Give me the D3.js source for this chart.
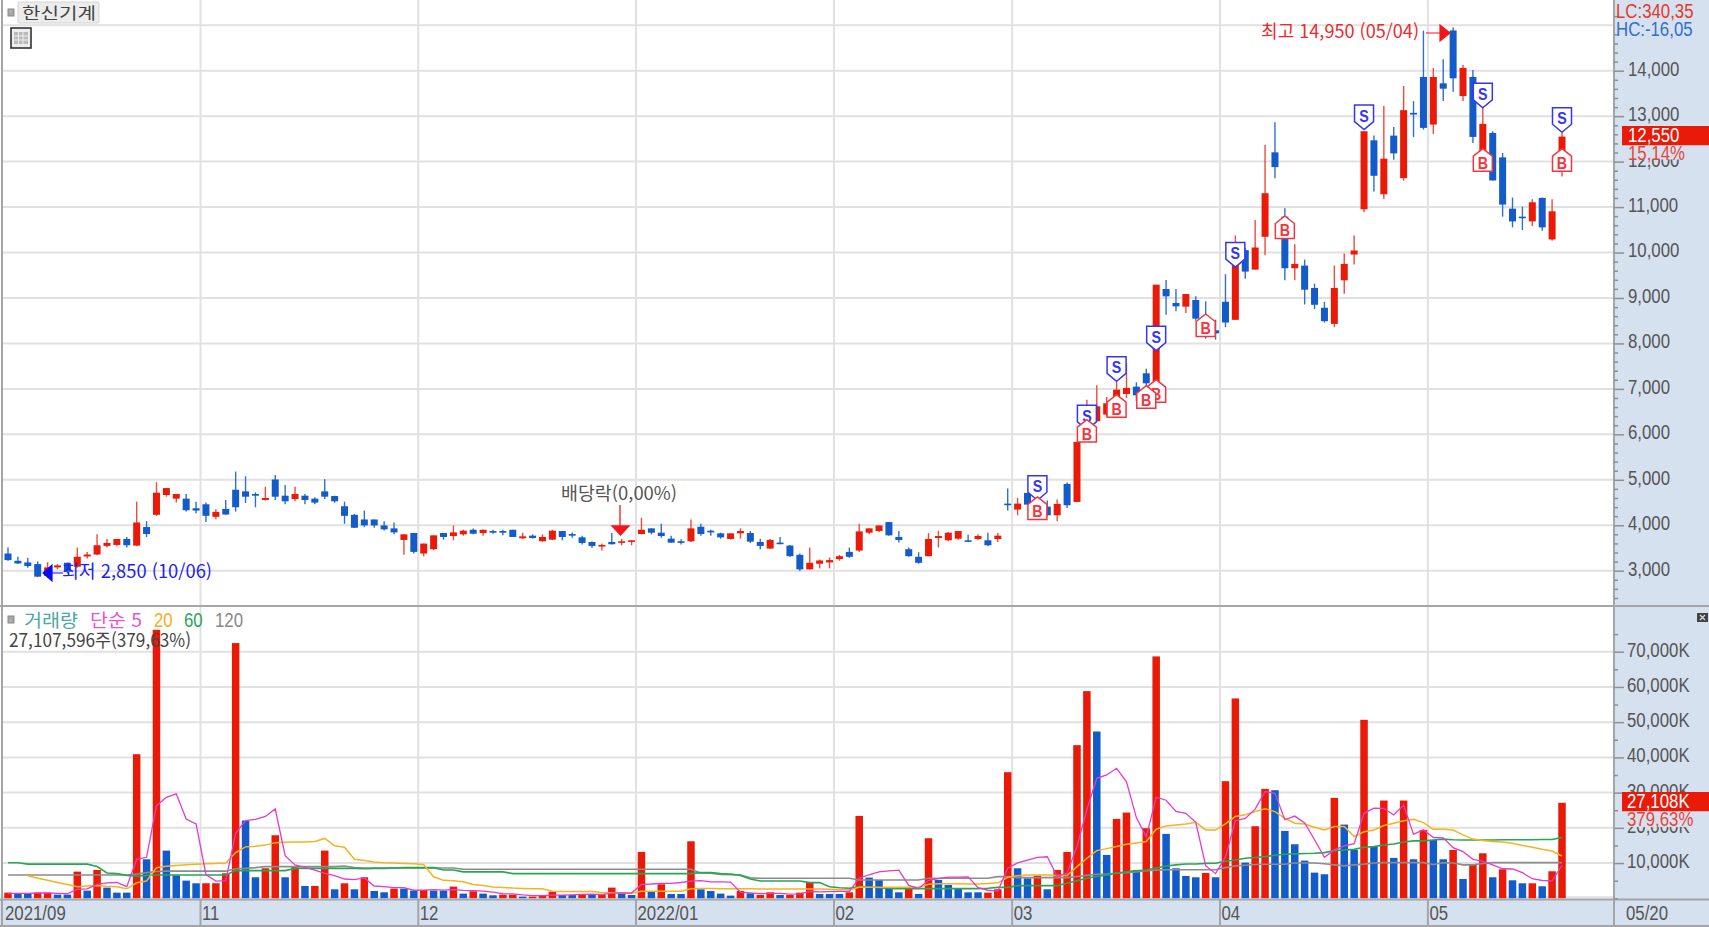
<!DOCTYPE html>
<html lang="ko"><head><meta charset="utf-8">
<style>
html,body{margin:0;padding:0;background:#fff;overflow:hidden}
svg{display:block}
text{font-family:"Liberation Sans","Noto Sans CJK KR",sans-serif}
.ko{font-family:"Noto Sans CJK KR","Liberation Sans",sans-serif}
</style>
<script src="https://cdn.jsdelivr.net/npm/d3@7/dist/d3.min.js"></script>
</head><body><svg id="c" width="1709" height="927"></svg>
<script>
const open=[3378,3218,3182,3145,2884,3073,3174,3087,3313,3356,
3545,3567,3698,3552,3960,4229,4665,4585,4585,4374,
4461,4185,4360,4781,4745,4687,4556,5007,4650,4578,
4650,4585,4745,4643,4418,4229,4127,4127,3996,3931,
3676,3829,3378,3473,3829,3763,3800,3901,3829,3872,
3872,3901,3713,3771,3647,3683,3872,3807,3734,3632,
3531,3632,3618,3647,3807,3931,3836,3705,3647,3647,
3967,3880,3822,3698,3822,3829,3632,3487,3618,3553,
3349,3029,3153,3182,3254,3414,3443,3836,3872,4069,
3742,3473,3305,3320,3720,3669,3705,3669,3698,3669,
3698,4476,4345,4711,4308,4410,4220,4909,4513,6214,
6287,6434,6800,6888,7049,7343,6947,9197,8889,8809,
8955,8486,8288,8917,8519,10052,9624,10346,12204,10789,
9654,9712,9219,8784,8430,9388,9956,10951,12469,11282,
12572,11636,13073,13862,12815,13722,14886,13442,13862,12000,
12631,12093,10965,10789,10685,11201,10287,11900];
const close=[3233,3160,3102,2869,3073,3116,2978,3305,3356,3560,
3611,3698,3560,4061,3807,4716,4818,4687,4330,4323,
4207,4294,4236,4396,4628,4650,4599,4628,4527,4687,
4556,4498,4628,4527,4207,3945,3996,3996,3909,3843,
3800,3414,3596,3778,3742,3843,3880,3814,3901,3843,
3836,3742,3756,3720,3742,3880,3742,3771,3611,3545,
3567,3582,3647,3669,3901,3836,3763,3618,3618,3931,
3807,3843,3734,3822,3872,3640,3545,3676,3589,3320,
3029,3174,3225,3233,3320,3305,3865,3931,3996,3778,
3676,3320,3174,3698,3763,3836,3872,3647,3763,3560,
3771,4454,4476,4454,4454,4220,4469,4440,5833,6434,
6617,6683,6983,7020,6859,7123,9292,9036,8816,9087,
8545,8230,8222,8460,9720,9580,10110,11304,11879,9654,
9749,9182,8850,8489,9219,9749,10044,12668,11688,12064,
12181,13132,13036,12742,13862,13604,13832,14061,12543,12830,
11585,11054,10685,10759,11105,10553,10906,12550];
const high=[3509,3305,3284,3204,3189,3145,3174,3509,3414,3800,
3698,3698,3742,4519,4090,4948,4818,4687,4687,4519,
4498,4352,4556,5181,5079,4723,4847,5108,4883,4847,
4687,4614,5014,4650,4519,4250,4323,4127,4090,4061,
3800,3836,3596,3778,3829,3996,3901,3931,3901,3901,
3901,3901,3836,3800,3800,3901,3872,3843,3771,3640,
3596,3829,3698,3669,4163,3931,4032,3771,3691,4127,
4032,3901,3836,3822,3931,3872,3705,3698,3742,3567,
3378,3509,3247,3291,3349,3509,4032,3931,3996,4069,
3872,3509,3407,3829,3872,3850,3872,3792,3800,3836,
3829,4806,4601,4711,4601,4542,4564,4938,5833,6763,
7079,6822,7167,7570,7145,7445,9292,9395,9197,9087,
9036,8926,8523,9521,10376,10100,10715,12373,12867,10973,
10184,9845,9315,8917,9713,9978,10376,12668,12572,13221,
12764,13663,13331,14879,14061,14252,14950,14127,14017,13184,
12668,12189,11209,11010,11172,11209,11172,12630];
const low=[3218,3145,3065,2862,2850,3029,2942,3073,3269,3342,
3509,3538,3509,3538,3742,4207,4628,4498,4301,4265,
4069,4134,4229,4301,4490,4396,4541,4556,4461,4527,
4461,4461,4578,4498,4032,3938,3960,3945,3887,3800,
3349,3378,3320,3451,3683,3669,3771,3800,3771,3814,
3778,3742,3698,3705,3640,3676,3669,3727,3574,3501,
3443,3574,3560,3560,3800,3800,3727,3611,3574,3632,
3771,3771,3705,3683,3705,3611,3473,3480,3582,3305,
2993,3029,3051,3051,3218,3284,3414,3800,3850,3771,
3618,3305,3153,3313,3509,3647,3683,3640,3669,3538,
3632,4322,4220,4454,4200,4198,4088,4381,4513,5980,
6287,6397,6580,6800,6727,6983,6930,8632,8706,8669,
8500,8105,8083,8357,8519,9425,9624,9941,11636,9388,
9388,8858,8754,8460,8357,9093,9735,10884,11341,11179,
12041,11577,12543,12705,12609,13331,13538,13331,12410,11784,
11585,10789,10553,10494,10582,10479,10258,11673];
const volume=[1610,1420,1420,1610,1610,1040,1040,7576,2178,8050,
3030,1610,1610,40900,11080,76230,13540,6530,5020,4260,
4270,4280,7100,72450,22065,5970,8520,17900,5970,9000,
3500,3510,13540,2557,4260,2557,5970,2083,1705,2746,
2746,2178,2367,2178,2178,3315,1326,1990,1326,850,
1040,1040,470,470,660,1890,950,950,1140,950,
1230,3030,1326,950,13160,1800,3980,1230,1230,16190,
2560,2080,1326,760,2080,1420,950,1700,950,950,
1610,4450,1230,1230,1230,1700,23390,5870,5210,2840,
1700,2650,1230,17050,5210,3790,2650,1700,1700,1610,
2560,35800,8520,5680,6440,2557,8050,13160,43470,58810,
47350,12310,22540,24340,8050,19890,68660,18280,8520,6345,
5970,7200,5970,33240,56730,10130,20455,31060,30680,19130,
15340,10700,7290,6820,28500,20930,13730,50660,14680,27750,
11460,27750,11080,19410,16570,11080,13730,5490,9470,12780,
5970,8240,5110,4260,4260,3410,7670,27108];
const volumeDir="RBBRRBBRBR BBBRBRBBBB RRRRBBRRBR BRRBRBRBBR BBRBBRBRBB RRBRRRBBRB RRBBRBRBBR BBBBRBRRBR RRBBBRRBBB BRBRBBBBBR RRBBRBRRRR BBRRBRRBBB BRBRRBRRBB BBBBRBBRBR BRBRBBRBRR BRBBRBRR".replace(/ /g,"");
const ma5=[1400,1400,1400,1500,1500,1400,1300,2575,2689,3977,
4375,4489,3296,11040,11646,26286,28672,29656,22480,21116,
6724,4872,4986,18472,22033,22373,23221,25381,12085,9472,
8778,7976,7104,6423,5473,5285,5777,3485,3315,3012,
3050,2292,2348,2443,2329,2443,2273,2197,2027,1761,
1306,1250,945,774,736,906,888,984,1118,1176,
1044,1460,1535,1497,3940,4054,4243,4224,4480,4886,
5038,4658,4677,4583,1761,1533,1307,1382,1420,1194,
1232,1932,1838,1894,1950,1988,5756,6684,7480,7802,
8002,3654,2786,5094,5568,5986,5986,6080,3010,2290,
2044,8574,10038,10834,11600,11799,6210,7178,14735,25210,
34068,35020,36896,33070,22918,17426,28696,27844,24680,24139,
21555,9263,7001,11745,22022,22654,25305,30323,29811,22291,
23333,21382,16628,11658,13730,14888,15494,24128,25600,25550,
23656,26460,18144,19490,17254,17178,14374,13256,11068,10510,
9488,8390,8314,7272,5568,5056,4942,9342];
const ma20=[null,null,6400,5700,5100,4500,3900,3300,3500,3600,
3400,3300,2700,4400,4900,8700,9100,9300,9500,9700,
9800,9900,10000,13000,14600,14800,15100,15800,15900,16000,
16000,16100,17000,14900,14500,11100,10700,10300,10100,10000,
9900,9800,9500,6100,5100,5000,4700,3900,3600,3200,
3100,2900,2800,2700,2700,2000,1900,1900,1900,1900,
1650,1600,1550,1450,2000,2000,2000,2000,2000,2700,
2750,2750,2700,2700,2700,2700,2650,2650,2650,2650,
2650,2650,2650,2600,2450,2400,3150,3150,3150,3150,
3150,3150,3150,4000,4100,4100,4100,4050,4050,4200,
4400,5970,6400,6630,6630,6600,6500,6440,9000,11360,
13540,14100,14680,15340,15700,16100,19600,20550,20800,21100,
21600,19400,19400,21100,23200,23700,24600,25380,24600,22700,
21300,21100,20170,19400,20360,20360,17500,18900,19400,20640,
21300,22000,22400,21500,19600,19600,19400,18000,16800,16400,
16100,16000,15600,15000,14500,13900,13400,12000];
const ma60=[10100,10100,9700,9700,9700,9700,9700,9700,9700,9000,
7200,7000,6500,6300,6500,6630,6630,6630,6630,6630,
6630,6630,6630,7860,7860,7860,7860,7860,7860,8500,
8500,8500,8500,8500,8500,8500,8400,8500,8500,8600,
8700,8700,8700,8700,8050,8050,7500,7500,7500,7500,
7500,7000,7000,7000,7000,7000,7000,7000,7000,7000,
7000,7000,7000,7000,7000,7000,7000,7000,7000,7000,
7300,7300,7000,6900,6500,5500,4900,4900,4900,4900,
4900,4450,4450,3300,3000,2840,3300,3200,3000,2800,
2750,2750,2750,2750,2750,2750,2750,2750,2750,2840,
3100,3100,3600,3600,3600,3600,3600,4260,5000,5680,
6200,6630,7100,7570,7800,8050,8600,9190,9500,9750,
9750,9900,9940,10500,10890,11360,11600,11840,12220,12500,
12600,12700,12800,12970,13540,13700,13900,14500,14680,15150,
15400,16000,16300,16300,16570,16800,16600,16570,16570,16570,
16570,16600,16600,16600,16600,16700,16700,17300];
const ma120=[6630,6630,6630,6630,6630,6630,6630,6630,6630,6630,
6630,6630,6630,6900,7300,7600,7700,7700,7700,7700,
7700,7700,7700,8400,8500,8700,9000,9000,9000,9000,
9000,9000,9000,9000,9150,8700,8600,8600,8600,8600,
8600,8600,8600,8600,8600,8600,8240,8240,8240,8240,
8240,8240,8240,8240,8240,8240,8240,8240,8240,8240,
8240,8240,8240,8240,8240,8240,8240,8240,8240,8240,
7200,7100,6800,6700,6600,5800,5680,5680,5680,5680,
5680,5680,5680,5680,5680,5680,5200,5200,5200,5200,
5200,5200,5200,5680,5680,5680,5680,5680,5680,5680,
6150,6150,5870,5870,5870,5870,5870,5870,6200,6500,
6820,6900,7100,7300,7500,7800,8000,8100,8100,8100,
8100,8100,8100,8700,9200,9400,9600,9660,9660,9660,
10000,10000,10000,9800,9500,9200,9500,9700,10000,10130,
10130,10130,10130,10130,9600,10100,10000,9500,9500,9900,
10130,10130,10130,10130,10130,10130,10130,10130];
const monthStart=[0,20,42,64,84,102,123,144];
const monthLabel=["2021/09","11","12","2022/01","02","03","04","05"];
const priceTicks=[3000,4000,5000,6000,7000,8000,9000,10000,11000,12000,13000,14000];
const volTicks=[10000,20000,30000,40000,50000,60000,70000];
const sellIdx=[104,109,112,116,124,137,149,157];
const sellTip=[4550,6100,7167,7841,9680,12705,13184,12646];
const buyIdx=[116,115,104,109,112,121,129,149,157];
const buyTip=[7203,7071,4623,6324,6873,8647,10803,12285,12285];

const RED="#e91a08",BLUE="#125bc8",GRID="#e1e1e1",AXBG="#d6e1ef",EDGE="#a3a5a8",TXT="#555";
const L=3,R=1614,NARROW=0.84;
const idx=d3.range(open.length);
const x=d3.scaleLinear().domain([0,157]).range([8,1562]);
const yP=d3.scaleLinear().domain([3000,14000]).range([570.7,70.7]);
const yV=d3.scaleLinear().domain([0,70000]).range([898.3,651.7]);
const svg=d3.select("#c");
const bw=7;

svg.append("rect").attr("width",1709).attr("height",927).attr("fill","#fff");
svg.append("rect").attr("x",R).attr("y",0).attr("width",1709-R).attr("height",927).attr("fill",AXBG);
svg.append("rect").attr("x",0).attr("y",900).attr("width",1709).attr("height",27).attr("fill",AXBG);

const g=svg.append("g");
g.selectAll(".gp").data([...priceTicks,15000]).join("line")
 .attr("x1",L).attr("x2",R).attr("y1",d=>yP(d)).attr("y2",d=>yP(d)).attr("stroke",GRID).attr("stroke-width",2);
g.selectAll(".gv").data([0,...volTicks]).join("line")
 .attr("x1",L).attr("x2",R).attr("y1",d=>yV(d)-(d?0:1)).attr("y2",d=>yV(d)-(d?0:1)).attr("stroke",GRID).attr("stroke-width",2);
g.selectAll(".gm").data(monthStart.slice(1)).join("line")
 .attr("x1",d=>x(d-0.5)-.5).attr("x2",d=>x(d-0.5)-.5).attr("y1",0).attr("y2",900).attr("stroke",GRID).attr("stroke-width",2);

const cg=svg.append("g");
cg.selectAll(".w").data(idx).join("line")
 .attr("x1",i=>x(i)).attr("x2",i=>x(i)).attr("y1",i=>yP(high[i])).attr("y2",i=>yP(low[i]))
 .attr("stroke",i=>close[i]>=open[i]?"#ef4a3b":"#2e6fd0").attr("stroke-width",1.4);
cg.selectAll(".b").data(idx).join("rect")
 .attr("x",i=>x(i)-bw/2).attr("width",bw)
 .attr("y",i=>yP(Math.max(open[i],close[i])))
 .attr("height",i=>Math.max(1.6,Math.abs(yP(open[i])-yP(close[i]))))
 .attr("fill",i=>close[i]>=open[i]?RED:BLUE);

const ink="#3535f5",rink="#f5353d";
const tags=svg.append("g");
function sellTag(i,p){const X=x(i),Y=yP(p);
 const t=tags.append("g").attr("transform",`translate(${X},${Y})`);
 t.append("path").attr("d","M0,0L9.5,-8V-24.5H-9.5V-8Z").attr("fill","#fff").attr("stroke",ink).attr("stroke-width",1.5);
 t.append("text").attr("y",-8).attr("text-anchor","middle").attr("font-size",17).attr("font-weight",700).attr("fill",ink).attr("class","n").text("S");}
function buyTag(i,p){const X=x(i),Y=yP(p);
 const t=tags.append("g").attr("transform",`translate(${X},${Y})`);
 t.append("path").attr("d","M0,0L9.5,7.5V22.5H-9.5V7.5Z").attr("fill","#fff").attr("stroke",rink).attr("stroke-width",1.5);
 t.append("text").attr("y",20).attr("text-anchor","middle").attr("font-size",17).attr("font-weight",700).attr("fill",rink).attr("class","n").text("B");}
sellIdx.forEach((d,k)=>sellTag(d,sellTip[k]));
buyIdx.forEach((d,k)=>buyTag(d,buyTip[k]));

const vg=svg.append("g");
vg.selectAll("rect").data(idx).join("rect")
 .attr("x",i=>x(i)-bw/2-.25).attr("width",bw+.5)
 .attr("y",i=>yV(volume[i])).attr("height",i=>yV(0)-yV(volume[i]))
 .attr("fill",i=>volumeDir[i]==="R"?RED:BLUE);
const line=a=>d3.line().defined(i=>a[i]!=null).x(i=>x(i)).y(i=>yV(a[i]))(idx);
[[ma120,"#8c8c8c",1.6],[ma60,"#27a653",1.6],[ma20,"#f5b31e",1.5],[ma5,"#e63ac8",1.3]].forEach(([a,c,w])=>{
 svg.append("path").attr("d",line(a)).attr("fill","none").attr("stroke",c).attr("stroke-width",w);
});

const edge=[[2,0,2,927],[0,606,1709,606],[0,899.5,1709,899.5],[0,926,1709,926],[R,0,R,899.5],[R,900,R,926]];
svg.append("g").selectAll("line").data(edge).join("line")
 .attr("x1",d=>d[0]).attr("y1",d=>d[1]).attr("x2",d=>d[2]).attr("y2",d=>d[3])
 .attr("stroke",EDGE).attr("stroke-width",2);
svg.append("g").selectAll("line").data(monthStart.slice(1)).join("line")
 .attr("x1",d=>x(d-0.5)-.5).attr("x2",d=>x(d-0.5)-.5).attr("y1",900).attr("y2",926).attr("stroke",EDGE).attr("stroke-width",2);

function styleAxis(s,size){
 s.select(".domain").remove();
 s.selectAll("line").attr("stroke","#8f8f8f").attr("stroke-width",1.5);
 s.selectAll("text").attr("fill",TXT).attr("font-size",size).attr("dy","0.22em").attr("class","n");
}
const pa=svg.append("g").attr("transform",`translate(${R},0)`)
 .call(d3.axisRight(yP).tickValues(priceTicks).tickSize(10).tickPadding(4).tickFormat(d3.format(",")));
styleAxis(pa,20);
const pminor=d3.range(2400,15400,200).filter(d=>d%1000!==0);
const pm=svg.append("g").attr("transform",`translate(${R},0)`)
 .call(d3.axisRight(yP).tickValues(pminor).tickSize(4).tickFormat(""));
styleAxis(pm,1);
const va=svg.append("g").attr("transform",`translate(${R},0)`)
 .call(d3.axisRight(yV).tickValues(volTicks).tickSize(10).tickPadding(3).tickFormat(d=>d3.format(",")(d)+"K"));
styleAxis(va,20);
const vm=svg.append("g").attr("transform",`translate(${R},0)`)
 .call(d3.axisRight(yV).tickValues(d3.range(0,80000,10000).map(d=>d+5000).concat([0])).tickSize(4).tickFormat(""));
styleAxis(vm,1);

const T=(x0,y0,s,c,size,len)=>{const t=svg.append("text").attr("x",x0).attr("y",y0).attr("fill",c).attr("font-size",size).text(s);
 if(len){t.attr("class","ko").attr("textLength",len).attr("lengthAdjust","spacingAndGlyphs");}else t.attr("class","n");return t;};

T(1616,18,"LC:340,35","#e8372b",20);
T(1616,36,"HC:-16,05","#2f6fd0",20);
svg.append("rect").attr("x",1622).attr("y",126).attr("width",87).attr("height",19.5).attr("fill",RED);
T(1628,142,"12,550","#fff",20);
svg.append("rect").attr("x",1622).attr("y",145.5).attr("width",87).attr("height",14).attr("fill",AXBG);
T(1628,160,"15,14%","#e8453a",20);
svg.append("rect").attr("x",1622).attr("y",792).attr("width",87).attr("height",19.5).attr("fill",RED);
T(1627,808,"27,108K","#fff",20);
svg.append("rect").attr("x",1622).attr("y",811.5).attr("width",87).attr("height",15.5).attr("fill",AXBG);
T(1627,826,"379,63%","#e8453a",20);
T(1626,920,"05/20",TXT,20);

monthStart.forEach((m,k)=>T(m===0?5:x(m-0.5)+1,920,monthLabel[k],TXT,20));

svg.append("rect").attr("x",8).attr("y",9).attr("width",6).attr("height",7).attr("fill","#aaa").attr("stroke","#888");
svg.append("rect").attr("x",18).attr("y",2).attr("width",81).attr("height",21).attr("rx",1).attr("fill","#ececec").attr("stroke","#d4d4d4");
T(22,19,"한신기계","#444",16,74);
const ic=svg.append("g").attr("transform","translate(11,28)");
ic.append("rect").attr("width",20).attr("height",20).attr("fill","#eee").attr("stroke","#333").attr("stroke-width",1.6);
ic.append("rect").attr("x",3).attr("y",4).attr("width",14).attr("height",12).attr("fill","#bbb");
[7.5,12].forEach(v=>ic.append("line").attr("x1",v).attr("x2",v).attr("y1",4).attr("y2",16).attr("stroke","#eee"));
[8,12].forEach(v=>ic.append("line").attr("x1",3).attr("x2",17).attr("y1",v).attr("y2",v).attr("stroke","#eee"));

svg.append("rect").attr("x",8).attr("y",616).attr("width",6).attr("height",7).attr("fill","#aaa").attr("stroke","#888");
T(24,627,"거래량","#4ba7a8",18,54);
T(90,627,"단순 5","#ee4fd2",18,52);
T(154,627,"20","#f6ad1c",20);
T(184,627,"60","#2aa557",20);
T(215,627,"120","#888",20);
T(9,647,"27,107,596주(379,63%)","#444",18,182);

svg.append("rect").attr("x",1697).attr("y",613).attr("width",11).attr("height",9).attr("fill","#444");
svg.append("path").attr("d","M1700,615l5,5M1705,615l-5,5").attr("stroke","#ddd").attr("stroke-width",1.2);

T(1261,38,"최고 14,950 (05/04)","#f0282c",18,158);
svg.append("path").attr("d","M1426,33H1440V25L1450,33L1440,41V33").attr("fill","#f5141e").attr("stroke","#f5141e").attr("stroke-width",1.2);
T(62,578,"최저 2,850 (10/06)","#2222ee",18,150);
svg.append("path").attr("d","M63,573H52V565L43,573L52,581V573").attr("fill","#0b0bf0").attr("stroke","#0b0bf0").attr("stroke-width",1.2);
T(561,500,"배당락(0,00%)","#555",18,116);
svg.append("path").attr("d","M620,505V526H612L620.5,535L629,526H620").attr("fill","#f5141e").attr("stroke","#f5141e").attr("stroke-width",1.3);

// condense Latin labels to the narrow proportions of the original font
svg.selectAll("text.n").each(function(){
 const t=d3.select(this);
 if(!t.text())return;
 t.attr("textLength",this.getComputedTextLength()*NARROW).attr("lengthAdjust","spacingAndGlyphs");
});
</script></body></html>
